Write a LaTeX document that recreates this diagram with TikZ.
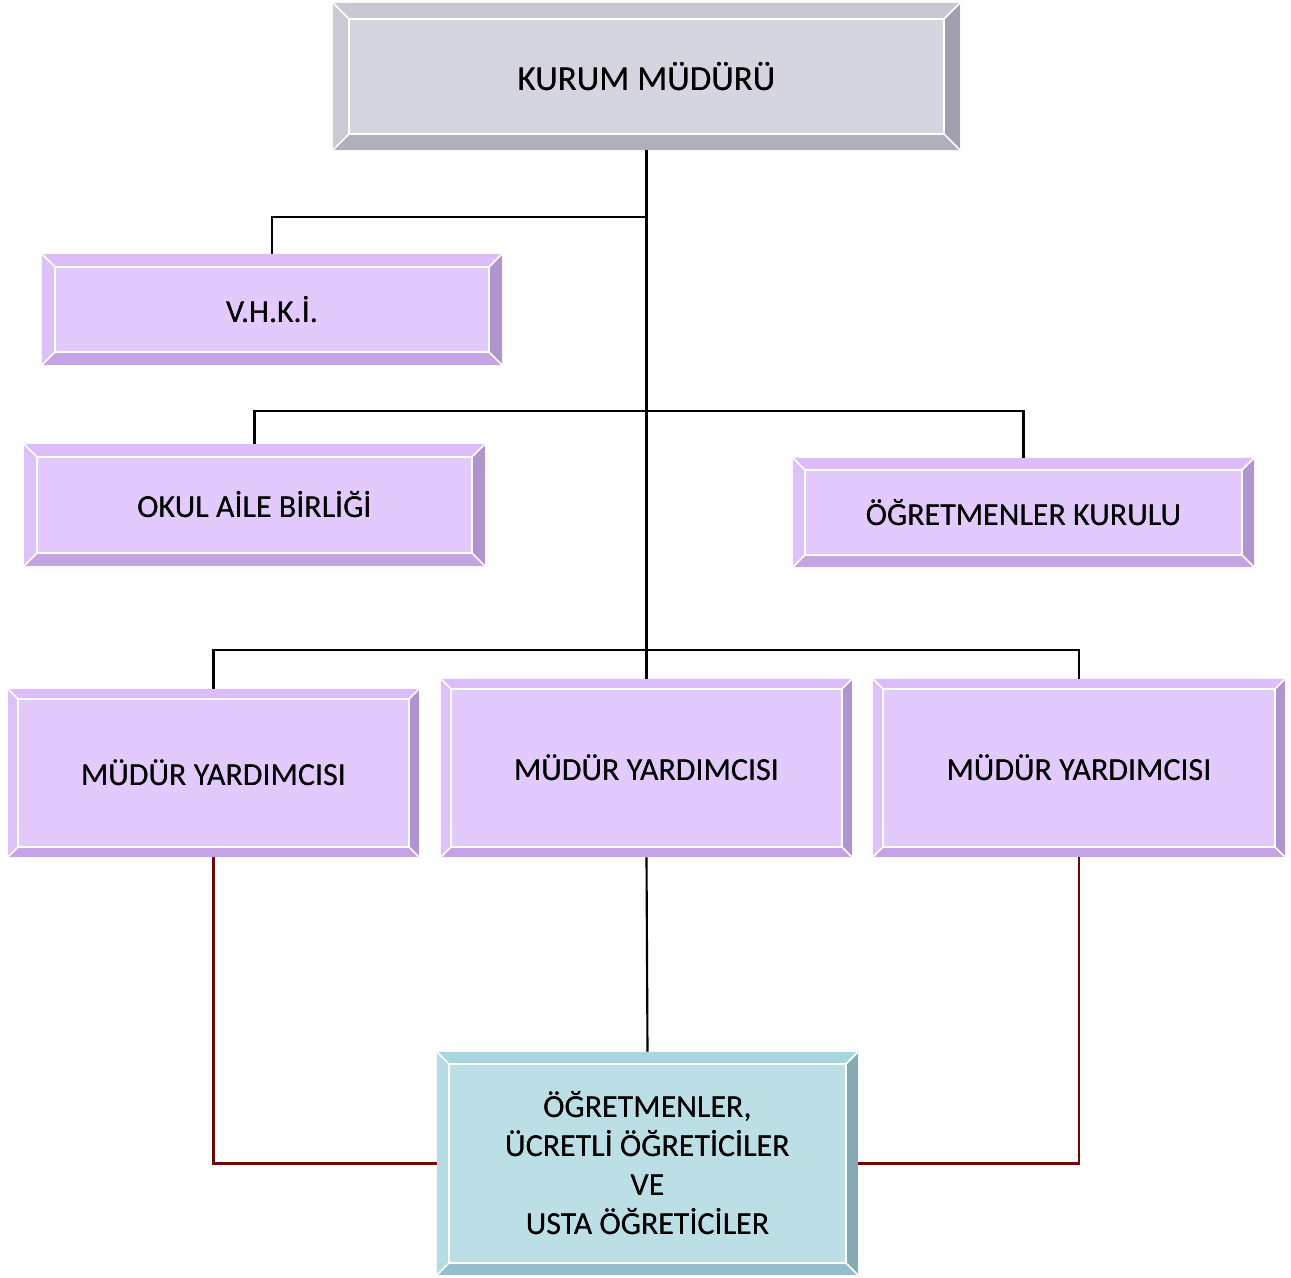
\documentclass[tikz,border=0pt]{standalone}
\usepackage{fontspec}
\setmainfont{Carlito}
\usetikzlibrary{calc}
\definecolor{pface}{HTML}{E2CBFC}
\definecolor{ptop}{HTML}{DCBDFA}
\definecolor{pleft}{HTML}{DDC2F9}
\definecolor{pright}{HTML}{AF94CE}
\definecolor{pbot}{HTML}{C4A4E4}
\definecolor{gface}{HTML}{D5D5E0}
\definecolor{gtop}{HTML}{C9C9D5}
\definecolor{gleft}{HTML}{CACAD6}
\definecolor{gright}{HTML}{A0A0AC}
\definecolor{gbot}{HTML}{AFAFBC}
\definecolor{tface}{HTML}{BCDFE5}
\definecolor{ttop}{HTML}{A8D6DF}
\definecolor{tleft}{HTML}{B5DBE3}
\definecolor{tright}{HTML}{86A9B2}
\definecolor{tbot}{HTML}{93BECA}
\definecolor{linkred}{HTML}{6E0808}
% \bevel{node}{width}{prefix}
\newcommand{\bevel}[3]{%
  \fill[#3top] (#1.north west) -- (#1.north east) -- ([shift={(-#2,#2)}]#1.north east) -- ([shift={(#2,#2)}]#1.north west) -- cycle;
  \fill[#3left] (#1.north west) -- (#1.south west) -- ([shift={(#2,-#2)}]#1.south west) -- ([shift={(#2,#2)}]#1.north west) -- cycle;
  \fill[#3right] (#1.north east) -- (#1.south east) -- ([shift={(-#2,-#2)}]#1.south east) -- ([shift={(-#2,#2)}]#1.north east) -- cycle;
  \fill[#3bot] (#1.south west) -- (#1.south east) -- ([shift={(-#2,-#2)}]#1.south east) -- ([shift={(#2,-#2)}]#1.south west) -- cycle;
  \draw[white, line width=1.5] ([shift={(#2,#2)}]#1.north west) rectangle ([shift={(-#2,-#2)}]#1.south east);
  \draw[white, line width=1.2] (#1.north west) -- ([shift={(#2,#2)}]#1.north west)
    (#1.north east) -- ([shift={(-#2,#2)}]#1.north east)
    (#1.south west) -- ([shift={(#2,-#2)}]#1.south west)
    (#1.south east) -- ([shift={(-#2,-#2)}]#1.south east);
  \draw[white!85!#3face, line width=0.8] (#1.north west) rectangle (#1.south east);
}
\begin{document}
\begin{tikzpicture}[x=0.75pt, y=-0.75pt,
  box/.style={rectangle, inner sep=0pt, align=center, font=\fontsize{24}{29}\selectfont, text=black},
  link/.style={draw=black, line width=1.6},
  redlink/.style={draw=linkred, line width=1.6}]
\useasboundingbox (0,0) rectangle (1291,1277);
\coordinate (j1) at (646.5,217);
\coordinate (j2) at (646.5,411);
\coordinate (j3) at (646.5,650);
% nodes
\node[box, fill=gface, minimum width=627*0.75pt, minimum height=147*0.75pt, font=\fontsize{26.3}{31}\selectfont] (K) at (646.5,76.5) {KURUM MÜDÜRÜ};
\node[box, fill=pface, minimum width=460*0.75pt, minimum height=111*0.75pt] (V) at (272,309.5) {V.H.K.İ.};
\node[box, fill=pface, minimum width=461*0.75pt, minimum height=122*0.75pt] (O) at (254.5,505) {OKUL AİLE BİRLİĞİ};
\node[box, fill=pface, minimum width=461*0.75pt, minimum height=109*0.75pt] (T) at (1023.5,512.5) {ÖĞRETMENLER KURULU};
\node[box, fill=pface, minimum width=411*0.75pt, minimum height=168*0.75pt] (M1) at (213.5,773) {MÜDÜR YARDIMCISI};
\node[box, fill=pface, minimum width=411*0.75pt, minimum height=178*0.75pt] (M2) at (646.5,768) {MÜDÜR YARDIMCISI};
\node[box, fill=pface, minimum width=412*0.75pt, minimum height=178*0.75pt] (M3) at (1079,768) {MÜDÜR YARDIMCISI};
\node[box, fill=tface, minimum width=421*0.75pt, minimum height=223*0.75pt, font=\fontsize{24}{29.25}\selectfont] (B) at (647.5,1163.5) {ÖĞRETMENLER,\\ÜCRETLİ ÖĞRETİCİLER\\VE\\USTA ÖĞRETİCİLER};
% bevels
\bevel{K}{16}{g}
\bevel{V}{13}{p}
\bevel{O}{13}{p}
\bevel{T}{12}{p}
\bevel{M1}{10}{p}
\bevel{M2}{10}{p}
\bevel{M3}{10}{p}
\bevel{B}{12}{t}
% text on top of the bevels
\node[box, font=\fontsize{26.3}{31}\selectfont] at (K) {KURUM MÜDÜRÜ};
\node[box] at (V) {V.H.K.İ.};
\node[box] at (O) {OKUL AİLE BİRLİĞİ};
\node[box] at (T) {ÖĞRETMENLER KURULU};
\node[box] at (M1) {MÜDÜR YARDIMCISI};
\node[box] at (M2) {MÜDÜR YARDIMCISI};
\node[box] at (M3) {MÜDÜR YARDIMCISI};
\node[box, font=\fontsize{24}{29.25}\selectfont] at (B) {ÖĞRETMENLER,\\ÜCRETLİ ÖĞRETİCİLER\\VE\\USTA ÖĞRETİCİLER};
% connectors
\draw[link, line width=1.9] (K.south) -- (M2.north);
\draw[link] (j1) -| (V.north);
\draw[link] (O.north) -- (O.north |- j2) -- (T.north |- j2) -- (T.north);
\draw[link] (M1.north) -- (M1.north |- j3) -- (M3.north |- j3) -- (M3.north);
\draw[link] (M2.south) -- (B.north);
\draw[redlink] (M1.south) |- (B.west);
\draw[redlink] (M3.south) |- (B.east);
\end{tikzpicture}
\end{document}
